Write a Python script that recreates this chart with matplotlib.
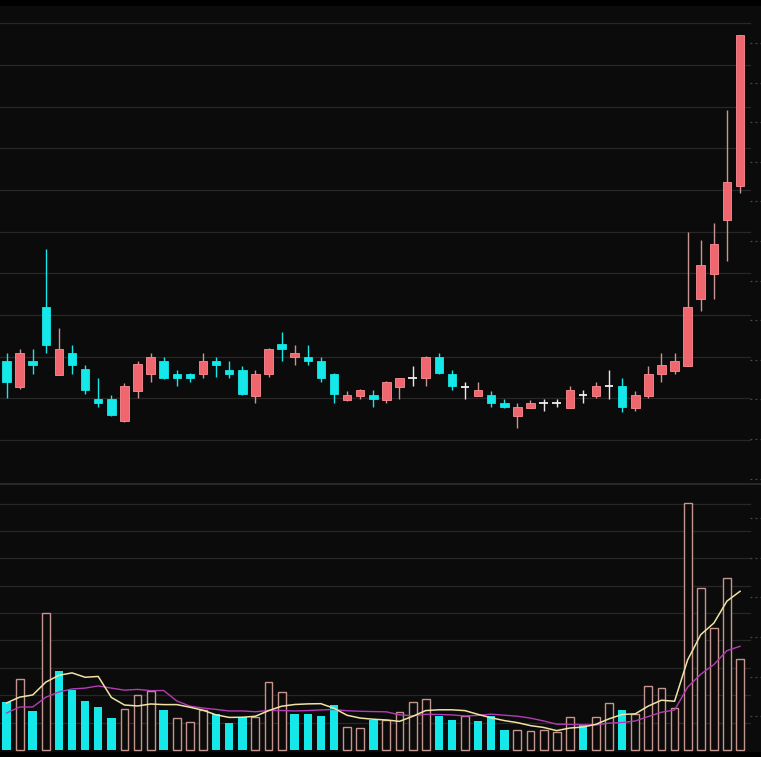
import matplotlib
matplotlib.use("Agg")
import matplotlib.pyplot as plt
import numpy as np

# ---- data (price and volume, 57 sessions) ----
opens = [10.95, 10.64, 10.95, 11.60, 10.78, 11.04, 10.85, 10.49, 10.49, 10.23,
         10.59, 10.79, 10.95, 10.79, 10.79, 10.79, 10.95, 10.84, 10.84, 10.53,
         10.79, 11.15, 11.00, 11.00, 10.95, 10.79, 10.48, 10.53, 10.54, 10.48,
         10.64, 10.74, 10.74, 11.00, 10.79, 10.64, 10.53, 10.54, 10.44, 10.29,
         10.38, 10.44, 10.44, 10.38, 10.54, 10.53, 10.65, 10.65, 10.38, 10.53,
         10.79, 10.83, 10.89, 11.69, 11.99, 12.64, 13.05]
highs = [11.04, 11.09, 11.09, 12.29, 11.34, 11.14, 10.90, 10.74, 10.54, 10.68,
         10.95, 11.04, 11.00, 10.84, 10.80, 11.04, 11.00, 10.95, 10.89, 10.84,
         11.10, 11.30, 11.14, 11.14, 11.00, 10.80, 10.59, 10.61, 10.60, 10.71,
         10.75, 10.89, 11.01, 11.04, 10.84, 10.70, 10.70, 10.59, 10.49, 10.44,
         10.48, 10.49, 10.49, 10.65, 10.60, 10.70, 10.84, 10.74, 10.59, 10.89,
         11.04, 11.04, 12.50, 12.40, 12.60, 13.96, 14.86]
lows = [10.50, 10.61, 10.79, 11.04, 10.78, 10.79, 10.55, 10.40, 10.29, 10.22,
        10.50, 10.70, 10.73, 10.65, 10.70, 10.74, 10.76, 10.74, 10.54, 10.44,
        10.76, 10.95, 10.90, 10.90, 10.70, 10.44, 10.47, 10.49, 10.40, 10.44,
        10.49, 10.65, 10.65, 10.79, 10.60, 10.49, 10.53, 10.40, 10.39, 10.14,
        10.38, 10.35, 10.40, 10.38, 10.44, 10.50, 10.49, 10.34, 10.35, 10.50,
        10.70, 10.79, 10.89, 11.55, 11.69, 12.15, 12.96]
closes = [10.70, 11.04, 10.90, 11.14, 11.09, 10.90, 10.60, 10.44, 10.30, 10.65,
          10.91, 11.00, 10.74, 10.74, 10.74, 10.95, 10.90, 10.79, 10.55, 10.79,
          11.09, 11.09, 11.04, 10.95, 10.74, 10.55, 10.54, 10.60, 10.49, 10.70,
          10.74, 10.74, 11.00, 10.80, 10.65, 10.64, 10.60, 10.44, 10.40, 10.40,
          10.44, 10.44, 10.44, 10.60, 10.54, 10.65, 10.65, 10.40, 10.54, 10.79,
          10.90, 10.95, 11.60, 12.10, 12.35, 13.10, 14.86]
volumes = [17.5, 25.9, 14.2, 50.0, 28.8, 21.9, 17.9, 15.7, 11.7, 15.0,
           20.1, 21.5, 14.6, 11.7, 10.2, 14.6, 13.1, 9.9, 12.0, 12.0,
           24.8, 21.2, 13.1, 13.1, 12.4, 16.4, 8.4, 8.0, 11.0, 11.0,
           13.9, 17.5, 18.6, 12.4, 11.0, 12.4, 10.6, 12.4, 7.3, 7.3,
           6.9, 7.3, 6.6, 12.0, 9.1, 12.0, 17.2, 14.6, 13.1, 23.4,
           22.6, 15.3, 90.2, 59.1, 44.5, 62.8, 33.2]
# 1 = volume bar drawn hollow (up day), 0 = filled cyan (down day)
vol_up = [0, 1, 0, 1, 0, 0, 0, 0, 0, 1,
          1, 1, 0, 1, 1, 1, 0, 0, 0, 1,
          1, 1, 0, 0, 0, 0, 1, 1, 0, 1,
          1, 1, 1, 0, 0, 1, 0, 0, 0, 1,
          1, 1, 1, 1, 0, 1, 1, 0, 1, 1,
          1, 1, 1, 1, 1, 1, 1]
# moving-average values at the left edge (windows reach before the view)
ma5_head = [17.2, 19.3, 20.1, 24.8]
ma10_head = [13.5, 15.7, 15.7, 19.3, 21.2, 22.3, 22.6, 23.4, 22.6]

# ---- styling ----
BG = '#0b0b0b'
RED = '#f0666f'
RED_WICK = '#c89494'
CYAN = '#14e8e8'
HOLLOW = '#c4958e'
GRID = '#272727'
MA5_C = '#efe3a4'
MA10_C = '#b43cb4'

W, H = 761, 757
fig = plt.figure(figsize=(W / 100, H / 100), dpi=100, facecolor='#000000')
ax1 = fig.add_axes([0, 1 - 483 / H, 1, (483 - 6) / H])
ax2 = fig.add_axes([0, 1 - 752 / H, 1, (752 - 483) / H])

n = len(closes)
x = np.arange(n)
o = np.array(opens); h = np.array(highs); l = np.array(lows); c = np.array(closes)
v = np.array(volumes)

for ax in (ax1, ax2):
    ax.set_facecolor(BG)
    for s in ax.spines.values():
        s.set_visible(False)
    ax.set_xticks([]); ax.set_yticks([])
    ax.set_xlim(-0.5, 57.6)

# price panel
ax1.set_ylim(9.484, 15.208)
for g in np.arange(10.0, 15.01, 0.5):
    ax1.axhline(g, xmax=0.985, color=GRID, lw=0.9, zorder=0)

bw = 0.65
up = c > o
down = c < o
doji = c == o

ax1.vlines(x[up], l[up], h[up], color=RED_WICK, lw=1.0, zorder=2)
ax1.vlines(x[down], l[down], h[down], color=CYAN, lw=1.0, zorder=2)
ax1.vlines(x[doji], l[doji], h[doji], color='#e8e8e8', lw=1.0, zorder=2)

ax1.bar(x[up], (c - o)[up], bottom=o[up], width=bw, color=RED,
        edgecolor='#ff8c92', linewidth=0.6, zorder=3)
ax1.bar(x[down], (o - c)[down], bottom=c[down], width=bw, color=CYAN,
        edgecolor=CYAN, linewidth=0.6, zorder=3)
ax1.hlines(c[doji], x[doji] - bw / 2, x[doji] + bw / 2, color='#f0f0f0', lw=1.3, zorder=3)

# volume panel
ax2.set_ylim(-0.73, 97.5)
for g in np.arange(10, 91, 10):
    ax2.axhline(g, xmax=0.985, color=GRID, lw=0.9, zorder=0)
ax2.axhline(97.3, color='#2e2e2e', lw=1.2, zorder=0)

vu = np.array(vol_up) == 1
ax2.bar(x[vu], v[vu], width=0.6, facecolor=BG, edgecolor=HOLLOW, linewidth=1.0, zorder=2)
ax2.bar(x[~vu], v[~vu], width=0.65, color=CYAN, linewidth=0, zorder=2)

ma5 = np.array(ma5_head + [v[i - 4:i + 1].mean() for i in range(4, n)])
ma10 = np.array(ma10_head + [v[i - 9:i + 1].mean() for i in range(9, n)])
ax2.plot(x, ma10, color=MA10_C, lw=1.0, zorder=3)
ax2.plot(x, ma5, color=MA5_C, lw=1.1, zorder=4)

# faint cut-off axis marks along the right edge (decorative)
for yy in np.arange(43, 720, 39.6):
    fig.add_artist(plt.Line2D([750 / W, 761 / W], [1 - yy / H, 1 - yy / H],
                              color='#4a4a4a', lw=0.9, linestyle=(0, (1.5, 2.5))))

fig.savefig('out.png', dpi=100, facecolor=fig.get_facecolor())
